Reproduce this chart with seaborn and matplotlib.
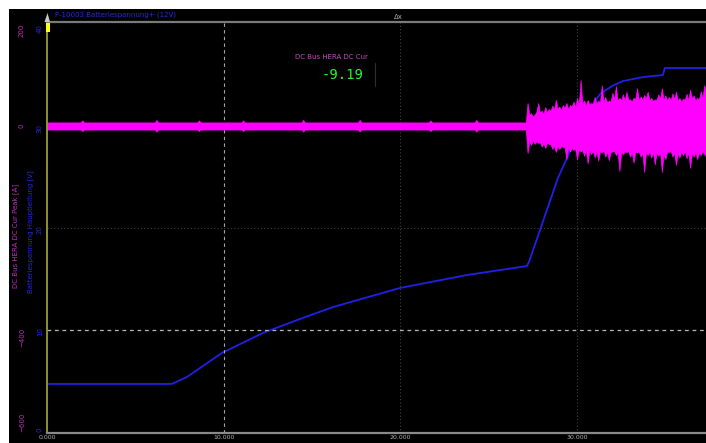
import matplotlib
matplotlib.use("Agg")
import matplotlib.pyplot as plt
from matplotlib.patches import Rectangle, Polygon
from matplotlib.lines import Line2D
import seaborn as sns
import pandas as pd

# ---- data -------------------------------------------------------------
# Battery voltage trace (blue), time in s
volt_t = [0.00, 7.07, 7.92, 9.90, 12.22, 14.32, 16.19, 19.98, 23.77, 27.16,
          27.28, 28.92, 29.43, 30.05, 30.56, 31.30, 31.98, 32.60, 33.73,
          34.86, 34.97, 37.30]
volt_v = [4.71, 4.71, 5.39, 7.75, 9.71, 11.08, 12.25, 14.12, 15.39, 16.27,
          16.67, 24.90, 26.86, 29.31, 31.27, 33.14, 33.92, 34.41, 34.80,
          35.00, 35.69, 35.69]

# DC bus current peak envelope (magenta), upper / lower edge in A
cur_t = [0.0, 1.0, 1.9, 2.0, 2.1, 3.5, 5.0, 6.1, 6.2, 6.3, 7.5, 8.5, 8.6,
         8.7, 10.0, 11.0, 11.1, 11.2, 13.0, 14.4, 14.5, 14.6, 16.0, 17.6,
         17.7, 17.8, 19.5, 21.6, 21.7, 21.8, 23.0, 24.2, 24.3, 24.4, 26.0,
         27.1,
         27.2, 27.3, 27.4, 27.5, 27.6, 27.7, 27.8, 27.9, 28.0, 28.1, 28.2,
         28.3, 28.4, 28.5, 28.6, 28.7, 28.8, 28.9, 29.0, 29.1, 29.2, 29.3,
         29.4, 29.5, 29.6, 29.7, 29.8, 29.9, 30.0, 30.1, 30.2, 30.3, 30.4,
         30.5, 30.6, 30.7, 30.8, 30.9, 31.0, 31.1, 31.2, 31.3, 31.4, 31.5,
         31.6, 31.7, 31.8, 31.9, 32.0, 32.1, 32.2, 32.3, 32.4, 32.5, 32.6,
         32.7, 32.8, 32.9, 33.0, 33.1, 33.2, 33.3, 33.4, 33.5, 33.6, 33.7,
         33.8, 33.9, 34.0, 34.1, 34.2, 34.3, 34.4, 34.5, 34.6, 34.7, 34.8,
         34.9, 35.0, 35.1, 35.2, 35.3, 35.4, 35.5, 35.6, 35.7, 35.8, 35.9,
         36.0, 36.1, 36.2, 36.3, 36.4, 36.5, 36.6, 36.7, 36.8, 36.9, 37.0,
         37.1, 37.2, 37.3]
cur_hi = [7, 7, 7, 11, 7, 7, 7, 7, 12, 7, 7, 7, 11, 7, 7, 7, 11, 7, 7, 7,
          12, 7, 7, 7, 12, 7, 7, 7, 11, 7, 7, 7, 12, 7, 7, 7,
          45, 22, 25, 18, 22, 28, 45, 26, 30, 24, 37, 27, 33, 30, 40, 32,
          51, 34, 38, 31, 41, 36, 45, 33, 41, 38, 48, 37, 55, 42, 90, 44,
          50, 40, 51, 43, 45, 42, 57, 44, 50, 46, 80, 47, 57, 46, 50, 48,
          65, 52, 78, 49, 55, 51, 62, 50, 67, 52, 52, 48, 55, 53, 74, 50,
          58, 51, 61, 54, 67, 50, 55, 49, 52, 51, 62, 53, 74, 52, 60, 50,
          57, 51, 64, 53, 67, 50, 55, 48, 53, 52, 63, 51, 71, 54, 60, 50,
          55, 52, 68, 55, 80, 62]
cur_lo = [-7, -7, -7, -10, -7, -7, -7, -7, -11, -7, -7, -7, -10, -7, -7, -7,
          -10, -7, -7, -7, -11, -7, -7, -7, -11, -7, -7, -7, -10, -7, -7, -7,
          -11, -7, -7, -7,
          -53, -30, -37, -28, -35, -30, -33, -32, -40, -34, -43, -33, -35,
          -36, -45, -38, -51, -40, -45, -39, -41, -42, -65, -44, -50, -43,
          -47, -45, -65, -46, -50, -47, -58, -48, -73, -47, -55, -49, -61,
          -50, -68, -49, -52, -48, -60, -50, -67, -51, -50, -49, -57, -52,
          -88, -51, -55, -50, -51, -49, -60, -52, -72, -50, -52, -51, -60,
          -53, -90, -52, -57, -50, -62, -51, -75, -53, -58, -52, -90, -54,
          -65, -50, -51, -49, -60, -52, -76, -53, -62, -50, -57, -49, -63,
          -52, -82, -53, -60, -51, -65, -52, -57, -50, -55, -60]

cur_ticks = [200, 0, -400, -600]
volt_ticks = [0, 10, 20, 30, 40]
time_ticks = [0, 10, 20, 30]
time_labels = ["0.000", "10.000", "20.000", "30.000"]

readout_name = "DC Bus HERA DC Cur"
readout_value = "-9.19"

# ---- figure -----------------------------------------------------------
W, H = 706, 443
sns.set_style("dark")
plt.rcParams["font.family"] = ["DejaVu Sans"]
fig = plt.figure(figsize=(W / 100, H / 100), dpi=100)
fig.patch.set_facecolor("white")
fig.patches.append(Rectangle((9 / W, 0), 1, 1 - 9 / H, transform=fig.transFigure,
                             facecolor="black", edgecolor="none", zorder=-5))

ax = fig.add_axes([47 / W, 1 - 433 / H, (W - 47) / W, (433 - 22) / H])
ax2 = ax.twinx()
ax.set_zorder(ax2.get_zorder() + 1)
ax.patch.set_visible(False)
ax2.patch.set_visible(False)

MAG = "#ff00ff"
BLUE = "#2020e8"

# voltage trace underneath
vdf = pd.DataFrame({"t": volt_t, "v": volt_v})
sns.lineplot(data=vdf, x="t", y="v", ax=ax2, color=BLUE, lw=1.3,
             estimator=None, sort=False)
ax2.set_ylim(-0.1, 40.2)
ax2.set_yticks(volt_ticks)
ax2.yaxis.tick_left()
ax2.yaxis.set_label_position("left")
ax2.tick_params(axis="y", colors="#2828d8", labelsize=5, length=0, pad=3,
                labelrotation=90)
ax2.set_xlabel("")
ax2.set_ylabel("")
for s in ax2.spines.values():
    s.set_visible(False)

# current envelope on top
ax.fill_between(cur_t, cur_lo, cur_hi, color=MAG, lw=0.5, edgecolor=MAG)
ax.set_xlim(0, 37.3)
ax.set_ylim(-602, 203.9)
ax.set_yticks(cur_ticks)
ax.tick_params(axis="y", colors="#c030c0", labelsize=5, length=0, pad=16,
               labelrotation=90)
ax.set_xticks(time_ticks)
ax.set_xticklabels(time_labels)
ax.set_xticks([2, 4, 6, 8, 12, 14, 16, 18, 22, 24, 26, 28, 32, 34, 36],
              minor=True)
ax.tick_params(axis="x", which="major", colors="#888888", labelcolor="#b0b0b0",
               labelsize=4.5, direction="in", length=3, pad=1.5)
ax.tick_params(axis="x", which="minor", colors="#777777", direction="in",
               length=2)
ax.grid(False)
ax2.grid(False)

# keep the outermost rotated tick labels inside the plot height
for axis_ in (ax, ax2):
    labels = axis_.get_yticklabels()
    ticks = list(axis_.get_yticks())
    labels[ticks.index(max(ticks))].set_va("top")
    labels[ticks.index(min(ticks))].set_va("bottom")

# reference lines
ax.axvline(10, color="#a8a8a8", lw=0.8, ls=(0, (3, 3)), zorder=0.5)
ax.axvline(20, color="#404040", lw=0.8, ls=(0, (1, 2)), zorder=0.5)
ax.axvline(30, color="#404040", lw=0.8, ls=(0, (1, 2)), zorder=0.5)
ax.axhline(-200, color="#404040", lw=0.8, ls=(0, (1, 2)), zorder=0.5)
ax.axhline(-400, color="#b8b8b8", lw=0.9, ls=(0, (3, 3)), zorder=0.5)

ax.spines["right"].set_visible(False)
ax.spines["left"].set_color("#9a9a38")
ax.spines["left"].set_linewidth(1.3)
ax.spines["top"].set_color("#7a7a7a")
ax.spines["top"].set_linewidth(1.6)
ax.spines["bottom"].set_color("#8a8a8a")
ax.spines["bottom"].set_linewidth(1.6)

# cursor marker at the top of the time axis
fig.patches.append(Rectangle((45.5 / W, 1 - 32 / H), 4 / W, 9 / H,
                             transform=fig.transFigure, facecolor="#ffff20",
                             edgecolor="none", zorder=5))
fig.patches.append(Polygon([(44.5 / W, 1 - 22 / H), (50 / W, 1 - 22 / H),
                            (47.5 / W, 1 - 13 / H)], closed=True,
                           transform=fig.transFigure, facecolor="#c8c8c8",
                           edgecolor="none", zorder=5))

# header texts
fig.text(55 / W, 1 - 14.5 / H, "P-10003 Batteriespannung+ (12V)",
         color="#2a2ad8", fontsize=5, va="center", ha="left")
fig.text(398 / W, 1 - 17 / H, "\u0394x", color="#b0b0b0", fontsize=5,
         va="center", ha="center")

# axis titles
fig.text(16 / W, 1 - 236 / H, "DC Bus HERA DC Cur Peak [A]", color="#c030c0",
         fontsize=5, rotation=90, va="center", ha="center")
fig.text(31 / W, 1 - 232 / H, "Batteriespannung Hauptleitung [V]",
         color="#2828d8", fontsize=5, rotation=90, va="center", ha="center")

# live readout
fig.text(331 / W, 1 - 57 / H, readout_name, color="#c848c8", fontsize=5,
         va="center", ha="center")
fig.text(343 / W, 1 - 75 / H, readout_value, color="#30f030", fontsize=10,
         va="center", ha="center", family="DejaVu Sans Mono")
fig.lines.append(Line2D([375 / W, 375 / W], [1 - 63 / H, 1 - 86 / H],
                        transform=fig.transFigure, color="#303030", lw=0.8))

fig.savefig("out.png", dpi=100, facecolor=fig.get_facecolor())
